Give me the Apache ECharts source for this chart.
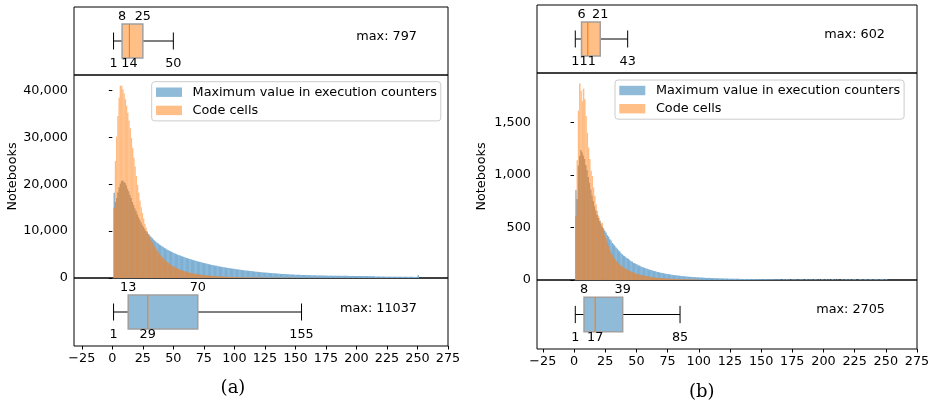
<!DOCTYPE html>
<html>
<head>
<meta charset="utf-8">
<script src="https://cdn.jsdelivr.net/npm/echarts@6/dist/echarts.min.js"></script>
<style>
  html, body { margin: 0; padding: 0; background: #fff; }
  #chart { width: 936px; height: 403px; }
</style>
</head>
<body>
<div id="chart"></div>
<script>
// Histogram bins are one unit wide, first bin starts at 1.
const BIN_START = 1;

// (a) all notebooks: counts per bin
const maxCounterA = [
  18200,16300,17100,18300,19400,20200,20700,20900,20600,20300,
  19800,19100,18500,17700,17100,16300,15600,14900,14300,13600,
  13000,12500,11900,11400,10950,10500,10050,9750,9400,9050,
  8800,8520,8230,8010,7760,7530,7360,7140,6960,6770,
  6610,6420,6280,6110,5990,5830,5710,5560,5450,5310,
  5210,5080,4990,4860,4780,4660,4590,4470,4400,4290,
  4220,4120,4050,3950,3890,3790,3730,3630,3580,3490,
  3440,3350,3300,3210,3170,3080,3040,2960,2920,2840,
  2800,2730,2690,2620,2590,2510,2480,2410,2390,2320,
  2290,2230,2200,2140,2120,2060,2040,1980,1960,1900,
  1870,1820,1800,1750,1730,1680,1660,1620,1600,1560,
  1540,1500,1480,1440,1420,1380,1360,1320,1310,1270,
  1250,1220,1200,1170,1150,1120,1100,1070,1060,1030,
  1020,990,980,950,940,910,900,875,865,840,
  830,810,800,780,770,750,745,725,720,700,
  695,680,675,660,655,640,635,622,618,606,
  602,590,586,576,572,562,559,550,547,538,
  535,527,524,517,514,507,505,498,496,490,
  488,482,480,474,472,467,466,461,460,455,
  454,449,448,443,442,437,436,431,430,425,
  424,419,418,413,412,407,406,401,400,395,
  394,389,388,383,312,309,306,304,301,298,
  296,293,291,288,286,284,281,279,277,274,
  272,270,268,266,263,261,259,257,255,253,
  251,249,247,245,243,241,239,237,235,600
];
const codeCellsA = [
  15000,25000,30200,34600,38500,41100,41000,40300,39400,38200,
  36800,35300,33600,32000,29900,27800,25700,23800,21800,19900,
  18200,16500,15100,13900,12700,11600,10800,10000,9300,8700,
  8150,7650,7150,6700,6280,5880,5500,5150,4820,4510,
  4220,3950,3700,3470,3250,3050,2860,2690,2530,2380,
  2240,2110,1990,1880,1770,1670,1580,1490,1410,1330,
  1260,1190,1130,1070,1010,960,910,860,820,780,
  740,700,665,630,600,570,545,520,495,470,
  450,430,410,390,372,355,340,325,310,296,
  283,270,258,247,236,226,216,207,198,190,
  182,174,167,160,153,147,141,135,130,125,
  120,115,110,106,102,98,94,90,87,84,
  81,78,75,72,69,66,64,62,60,58,
  56,54,52,50,48,46,45,43,42,40,
  39,38,36,35,34,33,32,31,30,29,
  28,27,26,25,25,24,23,22,22,21,
  20,20,19,18,18,17,17,16,16,15,
  15,14,14,13,13,13,12,12,11,11,
  11,10,10,10,9,9,9,9,8,8,
  8,8,7,7,7,7,6,6,6,6
];

// (b) second corpus: counts per bin
const maxCounterB = [
  856,770,1090,1180,1240,1215,1185,1150,1095,1045,
  980,925,860,805,750,700,662,618,592,560,
  538,508,492,468,452,426,413,388,375,352,
  341,326,309,298,281,272,255,246,233,226,
  214,206,201,188,179,176,163,160,152,148,
  139,137,128,124,119,115,109,108,101,99,
  94,92,86,85,81,77,76,71,70,66,
  65,61,60,57,55,54,51,50,47,46,
  45,42,42,40,38,37,36,35,33,33,
  31,30,30,28,28,27,26,25,25,24,
  23,23,22,21,21,20,20,19,19,18,
  18,17,17,17,16,16,15,15,15,14,
  14,14,13,13,13,12,12,12,12,11,
  11,11,11,10,10,10,10,9,9,9,
  10,8,9,8,9,8,9,7,8,7,
  8,7,8,6,7,6,7,6,7,6,
  6,5,7,5,6,0,6,5,5,6,
  5,6,0,5,5,6,4,5,0,5,
  6,5,4,0,5,6,0,5,4,5,
  0,5,6,4,0,5,0,6,5,0,
  4,5,0,5,0,4,6,0,5,0,
  5,0,0,4,5,0,5,6,0,4,
  5,0,4,5,6,0,0,5,6,5,
  0,5,6,5,0,4,6,5,0,5,
  6,5,5,0,6,5,6,0,5,6
];
const codeCellsB = [
  610,1140,1610,1870,1800,1700,1820,1720,1560,1400,
  1260,1150,1040,990,880,800,720,660,612,570,
  528,545,470,428,392,356,322,290,262,238,
  218,200,184,170,158,147,137,128,120,112,
  104,97,91,85,80,75,70,66,62,58,
  54,51,48,45,42,40,37,35,33,31,
  29,27,26,24,23,22,20,19,18,17,
  16,15,14,14,13,12,12,11,10,10,
  9,9,8,8,8,7,7,7,6,6,
  6,5,5,5,5,4,4,4,4,3
];

// Box summaries: [lower whisker, Q1, median, Q3, upper whisker]
const boxCodeCellsA = [1, 8, 14, 25, 50];
const boxMaxCounterA = [1, 13, 29, 70, 155];
const boxCodeCellsB = [1, 6, 11, 21, 43];
const boxMaxCounterB = [1, 8, 17, 39, 85];
const maxCodeCellsA = 797, maxCounterMaxA = 11037;
const maxCodeCellsB = 602, maxCounterMaxB = 2705;

const xTickValues = [-25, 0, 25, 50, 75, 100, 125, 150, 175, 200, 225, 250, 275];
const yTicksA = [0, 10000, 20000, 30000, 40000];
const yTicksB = [0, 500, 1000, 1500];

const NAME_MAX = 'Maximum value in execution counters';
const NAME_CODE = 'Code cells';

const FONT = 'DejaVu Sans';
const FS = 12.8;
// translucent blue/orange histograms: blue alone, orange alone, and where they overlap
const BLUE_BAR = '#7eb0d4';
const ORANGE_BAR = '#ffbd84';
const OVERLAP_BAR = '#d0905a';
const BLUE_BOX = '#8fbbd9';
const ORANGE_BOX = '#ffbf86';

const panels = [
  { left: 74, width: 374, xMin: -31.4, xMax: 275,
    top: [7, 68], hist: [75, 203], bot: [278, 68],
    yMax: 43350, yTicks: yTicksA,
    maxSeries: maxCounterA, codeSeries: codeCellsA,
    boxTop: boxCodeCellsA, boxBot: boxMaxCounterA,
    maxTopText: 'max: ' + maxCodeCellsA, maxBotText: 'max: ' + maxCounterMaxA,
    maxTextRight: 417, maxTopY: 37, maxBotY: 308.5,
    legendLeft: 151.7, legendTop: 81.7,
    yNameX: 13, caption: '(a)', captionX: 233, captionY: 388 },
  { left: 537, width: 380, xMin: -29.7, xMax: 275,
    top: [5, 68], hist: [73, 207], bot: [280, 69],
    yMax: 1969, yTicks: yTicksB,
    maxSeries: maxCounterB, codeSeries: codeCellsB,
    boxTop: boxCodeCellsB, boxBot: boxMaxCounterB,
    maxTopText: 'max: ' + maxCodeCellsB, maxBotText: 'max: ' + maxCounterMaxB,
    maxTextRight: 885, maxTopY: 35, maxBotY: 310,
    legendLeft: 615, legendTop: 80,
    yNameX: 481.5, caption: '(b)', captionX: 701.7, captionY: 392 }
];

function fmtThousands(v) {
  return Math.round(v).toString().replace(/\B(?=(\d{3})+(?!\d))/g, ',');
}
function fmtX(v) {
  return v < 0 ? '\u2212' + Math.abs(v) : String(v);
}

// One bar per bin for the execution-counter histogram.
function maxRender(params, api) {
  const x = api.value(0), y = api.value(1);
  if (!y) return null;
  const p0 = api.coord([x, 0]);
  const p1 = api.coord([x + 1, y]);
  return {
    type: 'rect',
    shape: { x: p0[0], y: p1[1], width: p1[0] - p0[0] + 0.3, height: p0[1] - p1[1] },
    style: { fill: BLUE_BAR }
  };
}

// Code-cell bars: the part shared with the blue bar gets the blended colour.
function codeRender(params, api) {
  const x = api.value(0), c = api.value(1), m = api.value(2);
  if (!c) return null;
  const shared = Math.min(c, m);
  const p0 = api.coord([x, 0]);
  const w = api.coord([x + 1, 0])[0] - p0[0] + 0.3;
  const children = [];
  const ps = api.coord([x, shared]);
  if (shared > 0) {
    children.push({ type: 'rect', shape: { x: p0[0], y: ps[1], width: w, height: p0[1] - ps[1] },
                    style: { fill: OVERLAP_BAR } });
  }
  if (c > shared) {
    const pc = api.coord([x, c]);
    children.push({ type: 'rect', shape: { x: p0[0], y: pc[1], width: w, height: ps[1] - pc[1] },
                    style: { fill: ORANGE_BAR } });
  }
  return { type: 'group', children };
}

function boxRender(fill) {
  return function (params, api) {
    const lo = api.value(0), q1 = api.value(1), md = api.value(2),
          q3 = api.value(3), hi = api.value(4);
    const X = v => api.coord([v, 0.5])[0];
    const Y = t => api.coord([0, t])[1];
    const yMid = Y(0.5), yTop = Y(0.75), yBot = Y(0.25);
    const capT = Y(0.625), capB = Y(0.375);
    const line = (x1, y1, x2, y2, stroke, w) => ({
      type: 'line', shape: { x1, y1, x2, y2 }, style: { stroke, lineWidth: w }
    });
    const label = (v, t) => ({
      type: 'text',
      style: { text: String(v), x: X(v), y: Y(t), align: 'center', verticalAlign: 'middle',
               fill: '#000', fontSize: FS, fontFamily: FONT }
    });
    return {
      type: 'group',
      children: [
        line(X(lo), yMid, X(q1), yMid, '#000', 1),
        line(X(q3), yMid, X(hi), yMid, '#000', 1),
        line(X(lo), capT, X(lo), capB, '#000', 1),
        line(X(hi), capT, X(hi), capB, '#000', 1),
        { type: 'rect',
          shape: { x: X(q1), y: yTop, width: X(q3) - X(q1), height: yBot - yTop },
          style: { fill: fill, stroke: '#a0a0a0', lineWidth: 1.5 } },
        line(X(md), yTop, X(md), yBot, '#ff7f0e', 1.2),
        label(q1, 0.865),
        label(q3, 0.865),
        label(lo, 0.16),
        label(md, 0.16),
        label(hi, 0.16)
      ]
    };
  };
}

const grid = [], xAxis = [], yAxis = [], series = [], legend = [], graphic = [];

panels.forEach((p, pi) => {
  const base = pi * 3;
  [p.top, p.hist, p.bot].forEach(([top, height]) => {
    grid.push({ left: p.left, width: p.width, top: top, height: height,
                show: true, borderColor: '#000', borderWidth: 1,
                backgroundColor: 'transparent' });
  });
  for (let k = 0; k < 3; k++) {
    const isBottom = k === 2;
    xAxis.push({
      type: 'value', gridIndex: base + k, min: p.xMin, max: p.xMax,
      show: isBottom,
      splitLine: { show: false },
      axisLine: { show: false },
      axisTick: { show: isBottom, length: 3.5, lineStyle: { color: '#000' },
                  customValues: xTickValues },
      axisLabel: { show: isBottom, margin: 6, color: '#000', fontSize: FS,
                   fontFamily: FONT, formatter: fmtX, customValues: xTickValues }
    });
  }
  yAxis.push({ type: 'value', gridIndex: base, min: 0, max: 1, show: false });
  yAxis.push({
    type: 'value', gridIndex: base + 1, min: 0, max: p.yMax,
    splitLine: { show: false },
    axisLine: { show: false },
    axisTick: { show: true, length: 3.5, lineStyle: { color: '#000' },
                customValues: p.yTicks },
    axisLabel: { margin: 6, color: '#000', fontSize: FS, fontFamily: FONT,
                 formatter: fmtThousands, customValues: p.yTicks }
  });
  yAxis.push({ type: 'value', gridIndex: base + 2, min: 0, max: 1, show: false });

  series.push({
    type: 'custom', name: NAME_MAX, xAxisIndex: base + 1, yAxisIndex: base + 1,
    clip: true, silent: true, itemStyle: { color: BLUE_BAR },
    renderItem: maxRender,
    data: p.maxSeries.map((v, i) => [BIN_START + i, v])
  });
  series.push({
    type: 'custom', name: NAME_CODE, xAxisIndex: base + 1, yAxisIndex: base + 1,
    clip: true, silent: true, itemStyle: { color: ORANGE_BAR },
    renderItem: codeRender,
    data: p.codeSeries.map((v, i) => [BIN_START + i, v, p.maxSeries[i] || 0])
  });
  series.push({
    type: 'custom', name: 'codeBox' + pi, xAxisIndex: base, yAxisIndex: base,
    clip: false, silent: true, renderItem: boxRender(ORANGE_BOX),
    data: [p.boxTop]
  });
  series.push({
    type: 'custom', name: 'maxBox' + pi, xAxisIndex: base + 2, yAxisIndex: base + 2,
    clip: false, silent: true, renderItem: boxRender(BLUE_BOX),
    data: [p.boxBot]
  });

  legend.push({
    left: p.legendLeft, top: p.legendTop, orient: 'vertical',
    selectedMode: false, icon: 'rect', itemWidth: 26, itemHeight: 9.4, itemGap: 4.2,
    padding: [3.5, 4, 3.5, 4.3],
    backgroundColor: 'rgba(255,255,255,0.8)', borderColor: '#cccccc',
    borderWidth: 1, borderRadius: 3,
    textStyle: { color: '#000', fontSize: FS, fontFamily: FONT, lineHeight: 14,
                 padding: [0, 0, 0, 5.6] },
    data: [
      { name: NAME_MAX, itemStyle: { color: 'rgba(31,119,180,0.5)' } },
      { name: NAME_CODE, itemStyle: { color: 'rgba(255,127,14,0.5)' } }
    ]
  });

  graphic.push(
    { type: 'text', x: p.maxTextRight, y: p.maxTopY,
      style: { text: p.maxTopText, align: 'right', verticalAlign: 'middle',
               fill: '#000', fontSize: FS, fontFamily: FONT } },
    { type: 'text', x: p.maxTextRight, y: p.maxBotY,
      style: { text: p.maxBotText, align: 'right', verticalAlign: 'middle',
               fill: '#000', fontSize: FS, fontFamily: FONT } },
    { type: 'text', x: p.yNameX, y: p.hist[0] + p.hist[1] / 2, rotation: Math.PI / 2,
      style: { text: 'Notebooks', align: 'center', verticalAlign: 'middle',
               fill: '#000', fontSize: FS, fontFamily: FONT } },
    { type: 'text', x: p.captionX, y: p.captionY,
      style: { text: p.caption, align: 'center', verticalAlign: 'middle',
               fill: '#000', fontSize: 18, fontFamily: 'DejaVu Serif' } }
  );
});

const chart = echarts.init(document.getElementById('chart'), null, { renderer: 'canvas' });
chart.setOption({
  animation: false,
  textStyle: { fontFamily: FONT },
  grid, xAxis, yAxis, series, legend, graphic
});
</script>
</body>
</html>
